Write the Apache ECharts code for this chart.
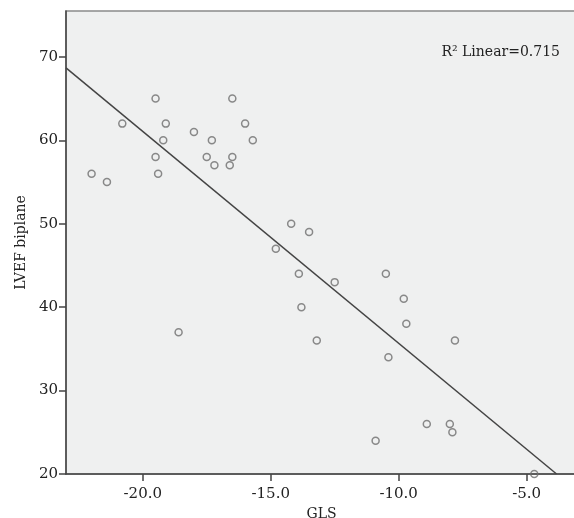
<!DOCTYPE html>
<html>
<head>
<meta charset="utf-8">
<script src="https://cdn.jsdelivr.net/npm/echarts@6/dist/echarts.min.js"></script>
<style>
html,body{margin:0;padding:0;background:#fff;}
#c{width:574px;height:518px;}
</style>
</head>
<body>
<div id="c"></div>
<script>
// Data
const gls = [-19.5,-16.5,-20.8,-19.1,-16.0,-18.0,-19.2,-17.3,-15.7,-19.5,-17.5,-16.5,-17.2,-16.6,-22.0,-19.4,-21.4,-18.6,-14.2,-13.5,-14.8,-13.9,-12.5,-10.5,-9.8,-13.8,-9.7,-13.2,-7.8,-10.4,-10.9,-8.9,-8.0,-7.9,-4.7];
const lvef = [65,65,62,62,62,61,60,60,60,58,58,58,57,57,56,56,55,37,50,49,47,44,43,44,41,40,38,36,36,34,24,26,26,25,20];
const xTicks = [-20,-15,-10,-5];
const yTicks = [20,30,40,50,60,70];
const xRange = [-23, -3.03];
const yRange = [20, 75.5];
// fit line
const fitIntercept = 10.28;
const fitSlope = -2.539;
const r2Label = 'R\u00B2 Linear=0.715';
const xName = 'GLS';
const yName = 'LVEF biplane';

const points = gls.map((g, i) => [g, lvef[i]]);
const fitStartX = xRange[0];
const fitEndX = (yRange[0] - fitIntercept) / fitSlope;
const fitLine = [[fitStartX, fitIntercept + fitSlope * fitStartX], [fitEndX, yRange[0]]];

const font = 'DejaVu Serif';
const chart = echarts.init(document.getElementById('c'), null, {renderer: 'canvas'});
chart.setOption({
  animation: false,
  backgroundColor: '#ffffff',
  grid: {left: 66, top: 11, right: -3, bottom: 44, containLabel: false, outerBoundsMode: 'none',
         show: true, backgroundColor: '#eff0f0', borderColor: '#8a8a8a', borderWidth: 1.5},
  xAxis: {
    type: 'value', min: xRange[0], max: xRange[1],
    name: xName, nameLocation: 'middle', nameGap: 31,
    nameTextStyle: {fontFamily: font, fontSize: 14, color: '#222'},
    axisLine: {show: true, onZero: false, lineStyle: {color: '#444', width: 1.5}},
    axisTick: {show: true, length: 7, customValues: xTicks, lineStyle: {color: '#444', width: 1.5}},
    axisLabel: {customValues: xTicks, formatter: v => v.toFixed(1), fontFamily: font, fontSize: 15, color: '#222', margin: 13},
    splitLine: {show: false}
  },
  yAxis: {
    type: 'value', min: yRange[0], max: yRange[1],
    name: yName, nameLocation: 'middle', nameGap: 38, nameRotate: 90,
    nameTextStyle: {fontFamily: font, fontSize: 14, color: '#222'},
    axisLine: {show: true, onZero: false, lineStyle: {color: '#444', width: 1.5}},
    axisTick: {show: true, length: 7, customValues: yTicks, lineStyle: {color: '#444', width: 1.5}},
    axisLabel: {customValues: yTicks, fontFamily: font, fontSize: 15, color: '#222', margin: 8},
    splitLine: {show: false}
  },
  graphic: [{
    type: 'text', right: 14, top: 45,
    style: {text: r2Label, font: '14px "DejaVu Serif"', fill: '#222'}
  }],
  series: [
    {
      type: 'line', data: fitLine, symbol: 'none', silent: true,
      lineStyle: {color: '#444', width: 1.5}, z: 2
    },
    {
      type: 'scatter', data: points, symbol: 'circle', symbolSize: 7,
      itemStyle: {color: 'rgba(0,0,0,0)', borderColor: '#6e6e6e', borderWidth: 1.5}, z: 3
    }
  ]
});
</script>
</body>
</html>
